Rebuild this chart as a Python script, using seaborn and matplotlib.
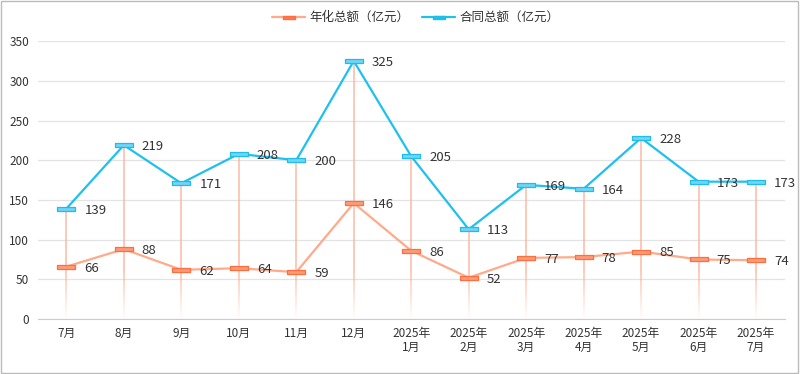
import numpy as np
import pandas as pd
import matplotlib
matplotlib.use("Agg")
import matplotlib.pyplot as plt
import seaborn as sns
from matplotlib.path import Path
from matplotlib.patches import Rectangle
from matplotlib.lines import Line2D

sns.set_style("white")
plt.rcParams['font.family'] = ['Noto Sans CJK SC', 'DejaVu Sans']

# data
months = ['7月', '8月', '9月', '10月', '11月', '12月', '2025年\n1月', '2025年\n2月',
          '2025年\n3月', '2025年\n4月', '2025年\n5月', '2025年\n6月', '2025年\n7月']
annual = [66, 88, 62, 64, 59, 146, 86, 52, 77, 78, 85, 75, 74]
contract = [139, 219, 171, 208, 200, 325, 205, 113, 169, 164, 228, 173, 173]
name_annual = '年化总额（亿元）'
name_contract = '合同总额（亿元）'

df = pd.DataFrame({'月份': months, name_annual: annual, name_contract: contract})
long = df.melt(id_vars='月份', var_name='系列', value_name='金额')
pos = np.arange(len(months))

fig, ax = plt.subplots(figsize=(8, 3.74), dpi=100)
fig.subplots_adjust(left=0.047, right=0.981, top=0.89, bottom=0.147)

# faded drop lines from top value down to axis
top = np.maximum(annual, contract)
n_seg = 40
fade_top = 60
xs, y0s, y1s, cols = [], [], [], []
for x, t in zip(pos, top):
    edges = np.linspace(0, fade_top, n_seg + 1)
    for i in range(n_seg):
        xs.append(x); y0s.append(edges[i]); y1s.append(edges[i + 1])
        cols.append((1.0, 0.68, 0.58, 0.03 + 0.8 * (i + 0.5) / n_seg))
    xs.append(x); y0s.append(fade_top); y1s.append(t)
    cols.append((1.0, 0.68, 0.58, 0.85))
ax.vlines(xs, y0s, y1s, colors=cols, linewidth=1.1, zorder=1)

palette = {name_annual: '#ffaa8a', name_contract: '#1fc0ef'}
sns.lineplot(data=long, x='月份', y='金额', hue='系列', palette=palette,
             sort=False, linewidth=1.6, ax=ax, zorder=2, legend=False)

rect = Path([(-1, -0.24), (1, -0.24), (1, 0.24), (-1, 0.24), (-1, -0.24)],
            [Path.MOVETO, Path.LINETO, Path.LINETO, Path.LINETO, Path.CLOSEPOLY])
ax.scatter(pos, annual, marker=rect, s=170, facecolor='#ff9c78', edgecolor='#ff6e40',
           linewidth=0.9, zorder=4)
ax.scatter(pos, contract, marker=rect, s=170, facecolor='#6fd6f7', edgecolor='#1fbde8',
           linewidth=0.9, zorder=4)

for vals in (annual, contract):
    for x, v in zip(pos, vals):
        ax.annotate(str(v), (x, v), xytext=(13, -1), textcoords='offset points',
                    va='center', ha='left', fontsize=9.5, color='#333333', zorder=5)

ax.set_xlim(-0.5, len(months) - 0.5)
ax.set_ylim(0, 350)
ax.set_yticks(range(0, 351, 50))
ax.set_xticks(pos)
ax.set_xticklabels(months, fontsize=8.5, color='#333333', linespacing=1.1)
ax.tick_params(axis='y', labelsize=8.5, colors='#333333', length=0, pad=6)
ax.tick_params(axis='x', length=0, pad=6)
ax.grid(axis='y', color='#e3e3e3', linewidth=0.9)
ax.set_axisbelow(True)
for s in ['top', 'right', 'left']:
    ax.spines[s].set_visible(False)
ax.spines['bottom'].set_color('#cccccc')
ax.set_xlabel('')
ax.set_ylabel('')

# legend
handles = [
    Line2D([0], [0], color='#ffaa8a', linewidth=1.6, marker=rect, markersize=9,
           markerfacecolor='#ff7a4a', markeredgecolor='#ff6e40'),
    Line2D([0], [0], color='#1fc0ef', linewidth=1.6, marker=rect, markersize=9,
           markerfacecolor='#20c0ef', markeredgecolor='#1fbde8'),
]
fig.legend(handles, [name_annual, name_contract], loc='upper center',
           bbox_to_anchor=(0.52, 1.0), ncol=2, frameon=False, fontsize=9,
           handlelength=2.6, columnspacing=1.0, handletextpad=0.4,
           labelcolor='#333333')

fig.patches.append(Rectangle((0.001, 0.002), 0.997, 0.995, transform=fig.transFigure,
                             fill=False, edgecolor='#bbbbbb', linewidth=1.0))

fig.savefig('out.png', dpi=100)
